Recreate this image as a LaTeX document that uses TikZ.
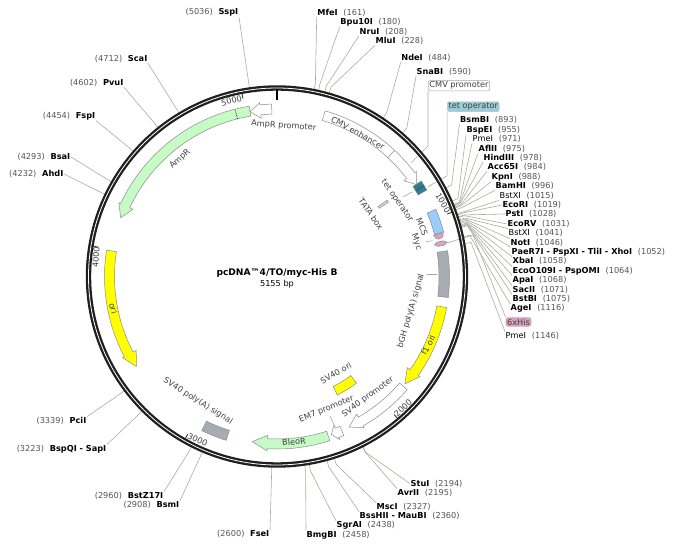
\documentclass[tikz,border=0pt]{standalone}
\usepackage{fontspec}
\setmainfont{DejaVu Sans}
\usepackage{xcolor}
\usetikzlibrary{positioning}
\definecolor{numgray}{HTML}{555555}
\definecolor{linegray}{HTML}{ABABA3}
\definecolor{edgegray}{HTML}{8C8C8C}
\definecolor{ampgreen}{HTML}{C6FBC6}
\definecolor{oriyellow}{HTML}{FFFF00}
\definecolor{mcsblue}{HTML}{99CCFF}
\definecolor{tetteal}{HTML}{2B8094}
\definecolor{tetbox}{HTML}{9CCBD3}
\definecolor{hispink}{HTML}{D6A4BF}
\definecolor{polygray}{HTML}{A7ACB3}
\begin{document}
\begin{tikzpicture}[x=1pt,y=1pt,font=\fontsize{8.2}{10}\selectfont,
ringctr/.style={shift={(277,273.5)}},
site/.style={inner sep=0.5pt,text=black},
siteline/.style={draw=linegray,line width=0.6pt},
feat/.style={draw=edgegray,line width=0.5pt},
flabel/.style={text=black!75,inner sep=0.5pt},
fbox/.style={rounded corners=2pt,inner sep=1.2pt,text=black!75,line width=0.5pt},
tickline/.style={line width=0.8pt,black!85}]
 \useasboundingbox (0,0) rectangle (678,550);
 % sites on the right side
 \foreach \bp/\nm/\lx/\ly/\anc in {161/MfeI/316.7/12.5/south west,
   180/Bpu10I/339.7/22/south west,208/NruI/359/31.5/south west,228/MluI/375/41/south west,
   484/NdeI/400.7/58/south west,590/SnaBI/416/72/south west,
   893/BsmBI/459.5/120/south west,955/BspEI/466/130/south west,971/\mdseries PmeI/472/139/south west,
   975/AflII/478/149/south west,978/HindIII/483/158/south west,984/Acc65I/487/167/south west,
   988/KpnI/491/177/south west,996/BamHI/495/186/south west,1015/\mdseries BstXI/499/196/south west,
   1019/EcoRI/502/205/west,1028/PstI/505/214/west,1031/EcoRV/507/224/west,
   1041/\mdseries BstXI/508/233/north west,1046/NotI/510/243/north west,
   1052/PaeR7I - PspXI - TliI - XhoI/511/252/north west,1058/XbaI/512/261/north west,
   1064/EcoO109I - PspOMI/512/271/north west,1068/ApaI/512/280/north west,
   1071/SacII/512/290/north west,1075/BstBI/512/299/north west,1116/AgeI/510/308.5/north west,
   1146/\mdseries PmeI/505/336/north west,
   2194/StuI/410/483.7/west,2195/AvrII/397/493/north west,2327/MscI/376/507/north west,
   2360/BssHII - MauBI/359/516/north west,2438/SgrAI/336/525.5/north west,
   2458/BmgBI/306/535/north west}
  {\pgfmathsetmacro\ang{90-\bp/5155*360}
   \node[site,anchor=west] (s\bp) at (\lx,550-\ly) {{\bfseries\nm}\hspace{0.7em}\textcolor{numgray}{(\bp)}};
   \path[ringctr] (\ang:191) coordinate (a\bp) (\ang:197) coordinate (b\bp);
   \draw[siteline] (a\bp) -- (b\bp) -- (s\bp.\anc);}
 % sites on the left side
 \foreach \bp/\nm/\lx/\ly/\anc in {5036/SspI/239/12.5/south east,4712/ScaI/148/59/south east,
   4602/PvuI/124/83/south east,4454/FspI/96/116/south east,4293/BsaI/71/157/east,
   4232/AhdI/64/174/east,3339/PciI/87/421/north east,3223/BspQI - SapI/107/449/north east,
   2960/BstZ17I/164/496/north east,2908/BsmI/180/505/north east,2600/FseI/270/534/north east}
  {\pgfmathsetmacro\ang{90-\bp/5155*360}
   \node[site,anchor=east] (s\bp) at (\lx,550-\ly) {\textcolor{numgray}{(\bp)}\hspace{0.7em}{\bfseries\nm}};
   \path[ringctr] (\ang:191) coordinate (a\bp) (\ang:197) coordinate (b\bp);
   \draw[siteline] (a\bp) -- (b\bp) -- (s\bp.\anc);}
 % labelled boxes and their leaders
 \node[fbox,draw=black!35,fill=white] (lcmv) at (459,464.3) {CMV promoter};
 \node[fbox,draw=tetbox,fill=tetbox] (ltet) at (473.3,443.3) {tet operator};
 \node[fbox,draw=hispink,fill=hispink] (lhis) at (518.5,228) {6xHis};
 \coordinate (cmvbend) at (lcmv.south west |- 0,404);
 \coordinate (cmvend) at (411,387);
 \coordinate (tetbend) at (ltet.south west |- 0,374.3);
 \coordinate (tetend) at (428,363.3);
 \coordinate (hisbend) at (473,315);
 \coordinate (hisend) at (447,307);
 \draw[siteline] (lcmv.south west) -- (cmvbend) -- (cmvend);
 \draw[siteline] (ltet.south west) -- (tetbend) -- (tetend);
 \draw[siteline] (lhis.north west) -- (hisbend) -- (hisend);
 % the ring
 \draw[ringctr,line width=5.4pt,black!88] (0,0) circle (188.5);
 \draw[ringctr,line width=0.8pt,white] (0,0) circle (188.5);
 \draw[ringctr,line width=2pt,black] (90:187) -- (90:176);
 \foreach \k/\lx/\ly/\rot in {1000/443/203/-60,2000/403/408/45,3000/197.7/440/-24,4000/96/257.3/87,5000/231.5/100.7/15}
  {\pgfmathsetmacro\ang{90-\k/5155*360}
   \draw[ringctr,tickline] (\ang:181) -- (\ang:186.5);
   \node[flabel,rotate=\rot] (t\k) at (\lx,550-\ly) {\k};}
 % arrows on the ring
 \foreach \tA/\tB/\tC/\fcol in {-9.3/-65/-69.4/ampgreen,-1.8/-5.7/-9.3/white,16.2/53/56.6/white,
   100.4/125/130/oriyellow,131/150/154.4/white,157.2/159/161/white,162.2/183.3/188.5/ampgreen,
   278.8/242.3/237.4/oriyellow}
  {\pgfmathsetmacro\aA{90-\tA}\pgfmathsetmacro\aB{90-\tB}\pgfmathsetmacro\aC{90-\tC}
   \draw[ringctr,feat,fill=\fcol] (\aA:162.5) arc[start angle=\aA,end angle=\aB,radius=162.5]
     -- (\aB:159) -- (\aC:167) -- (\aB:174.5) -- (\aB:172.5)
     arc[start angle=\aB,end angle=\aA,radius=172.5] -- cycle;}
 % plain segments
 \foreach \tA/\tB/\rA/\rB/\fcol in {67.1/75/163/172.5/mcsblue,56.5/60/163/173/tetteal,
   55.3/56.3/123/134/black!15,
   81.4/97/162/172.5/polygray,143.3/153/123.5/133/oriyellow,197.2/206/161/171.5/polygray}
  {\pgfmathsetmacro\aA{90-\tA}\pgfmathsetmacro\aB{90-\tB}
   \draw[ringctr,feat,fill=\fcol] (\aA:\rA) arc[start angle=\aA,end angle=\aB,radius=\rA]
     -- (\aB:\rB) arc[start angle=\aB,end angle=\aA,radius=\rB] -- cycle;}
 % the two small pink ones
 \draw[ringctr,feat,fill=hispink] (90-75.2:162) -- (90-75.2:172) -- (90-76.6:170.5) -- (90-77:166) -- (90-76.6:163.5) -- cycle;
 \draw[ringctr,feat,fill=hispink] (90-77.9:164) -- (90-77.9:170) -- (90-78.6:173.5) -- (90-79.4:170) -- (90-79.4:164) -- (90-78.6:160.5) -- cycle;
 \draw[ringctr,black!70,line width=0.7pt] (90-58.3:163) -- (90-58.3:173);
 \draw[ringctr,feat] (90-43:162.5) -- (90-43:172.5);
 \draw[ringctr,densely dotted,black,line width=0.7pt] (90+14.1:162.5) -- (90+14.1:172.5);
 % texts along the features
 \foreach \nm/\lx/\ly/\rot/\txt in {lamp/180/159/42/AmpR,lampp/283.7/126/-4/AmpR promoter,
   lenh/358/133/-29/CMV enhancer,ltop/397/201/-55/tet operator,ltata/371/214/-56/TATA box,
   lmcs/422/227/-68/MCS,lmyc/416.5/242/-72/Myc,lbgh/411/311/73.5/bGH poly(A) signal,
   lfone/428.3/345/62/f1 ori,lsvp/368/397/36.5/SV40 promoter,lem/326.5/409/22.5/EM7 promoter,
   lbleo/294/441.7/5/BleoR,lsvo/336/373/30/SV40 ori,lsvpa/198/401/-32.3/SV40 poly(A) signal,
   lori/113.3/308.3/-74/ori}
  {\node[flabel,rotate=\rot] (\nm) at (\lx,550-\ly) {\txt};}
 % short leaders
 \coordinate (topend) at (412,358);
 \coordinate (mycend) at (432.7,309.3);
 \coordinate (bghend) at (437,275.7);
 \coordinate (emend) at (334,125);
 \draw[siteline] (403,353) -- (topend);
 \draw[siteline] (426,308.3) -- (mycend);
 \draw[siteline] (426.7,275.7) -- (bghend);
 \draw[siteline] (330,134) -- (emend);
 % title
 \node[inner sep=0.5pt,font=\fontsize{9.1}{11}\selectfont\bfseries] (ltitle) at (277,277) {pcDNA™4/TO/myc-His B};
 \node[inner sep=0.5pt,below=1.5pt of ltitle] (lsize) {5155 bp};
\end{tikzpicture}
\end{document}
